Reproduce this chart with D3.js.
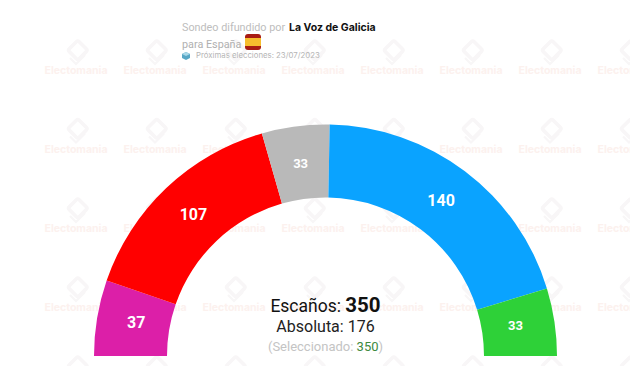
<!DOCTYPE html>
<html>
<head>
<meta charset="utf-8">
<script src="https://cdn.jsdelivr.net/npm/d3@7.9.0/dist/d3.min.js"></script>
<style>
  html, body { margin: 0; padding: 0; background: #fff; }
  svg { display: block; font-family: Roboto, sans-serif; }
</style>
</head>
<body>
<div id="chart"></div>
<script>
// Data
const parties = ['Sumar', 'PSOE', 'Otros', 'PP', 'Vox'];
const seats = [37, 107, 33, 140, 33];
const colors = ['#dc1fa8', '#ff0000', '#b9b9b9', '#0aa3ff', '#2ed138'];
const totalSeats = 350;
const majority = 176;
const selectedSeats = 350;

const width = 630;
const height = 366;
const cx = 325.5;
const cy = 356;
const outerR = 231.5;
const innerR = 158.5;
const labelR = 192;

const svg = d3.select('#chart')
  .append('svg')
  .attr('width', width)
  .attr('height', height);

// -------------------------------
// Watermark grid
// -------------------------------
const markCols = d3.range(76, 640, 79);
const markRows = [52, 130.5, 210, 289, 368];
const marks = svg.append('g').attr('class', 'watermark');

markRows.forEach((y) => {
  markCols.forEach((x) => {
    const g = marks.append('g').attr('transform', `translate(${x},${y})`);
    g.append('rect')
      .attr('x', -7).attr('y', -9.5)
      .attr('width', 14).attr('height', 14)
      .attr('rx', 2)
      .attr('transform', 'rotate(45)')
      .attr('fill', 'none')
      .attr('stroke', '#f8f6f7')
      .attr('stroke-width', 3.6);
    g.append('path')
      .attr('d', 'M-6,6 L0,12 L9,3')
      .attr('fill', 'none')
      .attr('stroke', '#f8f6f7')
      .attr('stroke-width', 2.2);
    g.append('text')
      .attr('y', 22)
      .attr('text-anchor', 'middle')
      .attr('font-size', 10.5)
      .attr('font-weight', 700)
      .attr('font-family', 'Inter, sans-serif')
      .attr('fill', '#fcf1ee')
      .text('Electomania');
  });
});

// -------------------------------
// Header
// -------------------------------
svg.append('text')
  .attr('x', 182).attr('y', 31)
  .attr('font-size', 10.8)
  .attr('fill', '#bdbdbd')
  .text('Sondeo difundido por');
svg.append('text')
  .attr('x', 289).attr('y', 31)
  .attr('font-size', 10.5)
  .attr('font-weight', 700)
  .attr('font-family', 'Inter, sans-serif')
  .attr('fill', '#111')
  .text('La Voz de Galicia');
svg.append('text')
  .attr('x', 182).attr('y', 48)
  .attr('font-size', 10.8)
  .attr('fill', '#b0b0b0')
  .text('para España');

// flag
svg.append('rect').attr('x', 245).attr('y', 34).attr('width', 16).attr('height', 16).attr('rx', 3).attr('fill', '#a81c14');
svg.append('rect').attr('x', 245).attr('y', 38).attr('width', 16).attr('height', 8).attr('fill', '#f6bd2e');

// ballot box
svg.append('path').attr('d', 'M182,54 L186,52 L190,54 L190,58 L186,60 L182,58 Z').attr('fill', '#58a7c6');
svg.append('path').attr('d', 'M182,54 L186,52 L190,54 L186,56 Z').attr('fill', '#a9d8e8');

svg.append('text')
  .attr('x', 196).attr('y', 58)
  .attr('font-size', 7.8)
  .attr('font-family', 'Inter, sans-serif')
  .attr('fill', '#b5b5b5')
  .text('Próximas elecciones: 23/07/2023');

// -------------------------------
// Hemicycle
// -------------------------------
const pie = d3.pie()
  .sort(null)
  .startAngle(-Math.PI / 2)
  .endAngle(Math.PI / 2);
const arc = d3.arc().innerRadius(innerR).outerRadius(outerR);
const labelArc = d3.arc().innerRadius(labelR).outerRadius(labelR);

const slices = svg.append('g')
  .attr('class', 'slices')
  .attr('transform', `translate(${cx},${cy})`);

slices.selectAll('path')
  .data(pie(seats))
  .join('path')
  .attr('d', arc)
  .attr('fill', (d, i) => colors[i]);

slices.selectAll('text')
  .data(pie(seats))
  .join('text')
  .attr('transform', (d) => `translate(${labelArc.centroid(d)})`)
  .attr('text-anchor', 'middle')
  .attr('y', -2)
  .attr('dy', '0.35em')
  .attr('fill', '#fff')
  .attr('font-weight', 700)
  .attr('font-size', (d) => (d.data === 33 ? 13 : 16))
  .text((d) => d.data);

// -------------------------------
// Center text
// -------------------------------
const esc = svg.append('text')
  .attr('x', cx).attr('y', 312)
  .attr('text-anchor', 'middle')
  .attr('font-size', 17.5)
  .attr('fill', '#111');
esc.append('tspan').text('Escaños: ');
esc.append('tspan').attr('font-weight', 700).attr('font-size', 20.5).text(totalSeats);

svg.append('text')
  .attr('x', cx).attr('y', 332)
  .attr('text-anchor', 'middle')
  .attr('font-size', 16)
  .attr('fill', '#222')
  .text(`Absoluta: ${majority}`);

const sel = svg.append('text')
  .attr('x', cx).attr('y', 351)
  .attr('text-anchor', 'middle')
  .attr('font-size', 13)
  .attr('fill', '#c4c4c4');
sel.append('tspan').text('(Seleccionado: ');
sel.append('tspan').attr('fill', '#3d8a3d').text(selectedSeats);
sel.append('tspan').text(')');
</script>
</body>
</html>
